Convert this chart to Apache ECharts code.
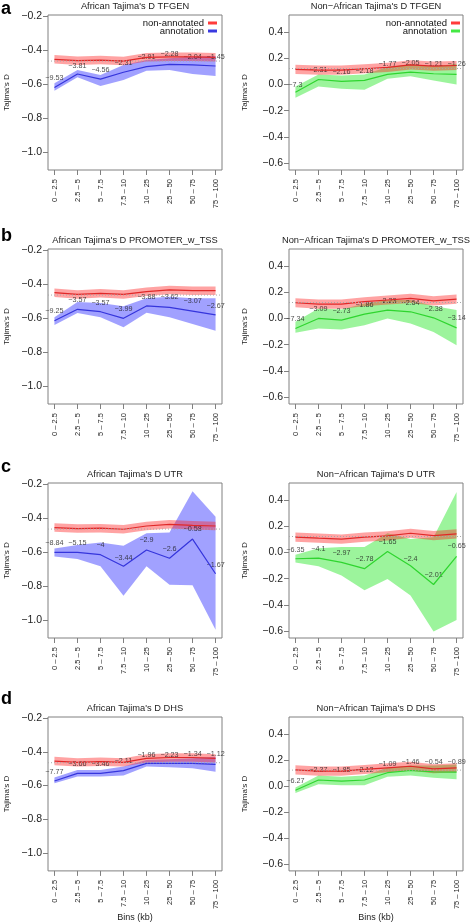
<!DOCTYPE html>
<html><head><meta charset="utf-8">
<script src="https://cdn.jsdelivr.net/npm/echarts@6/dist/echarts.min.js"></script>
<style>html,body{margin:0;padding:0;background:#fff}#c{width:472px;height:923px}</style>
</head><body><div id="c"></div><script>
const bins = ['0 – 2.5','2.5 – 5','5 – 7.5','7.5 – 10','10 – 25','25 – 50','50 – 75','75 – 100'];
const titles = ["African Tajima's D TFGEN","Non−African Tajima's D TFGEN","African Tajima's D PROMOTER_w_TSS","Non−African Tajima's D PROMOTER_w_TSS","African Tajima's D UTR","Non−African Tajima's D UTR","African Tajima's D DHS","Non−African Tajima's D DHS"];
const rowLetters = ['a','b','c','d'];
const yTicksAfr = [-1.0,-0.8,-0.6,-0.4,-0.2];
const yTicksNaf = [-0.6,-0.4,-0.2,0.0,0.2,0.4];
const refLevel = [-0.465, 0.122];

// TFGEN African
const tfAfrNon   = [-0.455,-0.463,-0.459,-0.465,-0.443,-0.440,-0.440,-0.443];
const tfAfrNonLo = [-0.480,-0.488,-0.484,-0.490,-0.468,-0.465,-0.465,-0.468];
const tfAfrNonHi = [-0.430,-0.438,-0.434,-0.440,-0.418,-0.415,-0.415,-0.418];
const tfAfrAnn   = [-0.620,-0.541,-0.571,-0.531,-0.498,-0.484,-0.488,-0.494];
const tfAfrAnnLo = [-0.640,-0.560,-0.612,-0.576,-0.522,-0.518,-0.541,-0.553];
const tfAfrAnnHi = [-0.596,-0.518,-0.547,-0.488,-0.459,-0.449,-0.440,-0.435];
const tfAfrLab   = ['−9.53','−3.81','−4.56','−2.31','−2.91','−2.28','−2.04','−1.45'];
const tfAfrLabY  = [-0.565,-0.494,-0.518,-0.476,-0.441,-0.424,-0.441,-0.441];
// TFGEN Non-African
const tfNafNon   = [0.115,0.110,0.110,0.120,0.130,0.150,0.140,0.145];
const tfNafNonLo = [0.080,0.075,0.075,0.085,0.095,0.115,0.105,0.110];
const tfNafNonHi = [0.150,0.145,0.145,0.155,0.165,0.185,0.175,0.180];
const tfNafAnn   = [-0.059,0.038,0.023,0.031,0.077,0.095,0.082,0.077];
const tfNafAnnLo = [-0.102,-0.015,-0.033,-0.041,0.044,0.062,0.031,0.000];
const tfNafAnnHi = [-0.015,0.077,0.069,0.077,0.133,0.154,0.138,0.159];
const tfNafLab   = ['−7.3','−2.31','−2.16','−2.18','−1.77','−2.05','−1.21','−1.26'];
const tfNafLabY  = [-0.008,0.108,0.095,0.102,0.159,0.167,0.159,0.154];
// PROMOTER African
const prAfrNon   = [-0.451,-0.461,-0.455,-0.461,-0.445,-0.435,-0.439,-0.439];
const prAfrNonLo = [-0.476,-0.486,-0.480,-0.486,-0.470,-0.460,-0.464,-0.464];
const prAfrNonHi = [-0.426,-0.436,-0.430,-0.436,-0.420,-0.410,-0.414,-0.414];
const prAfrAnn   = [-0.616,-0.549,-0.563,-0.602,-0.529,-0.537,-0.559,-0.582];
const prAfrAnnLo = [-0.641,-0.571,-0.596,-0.655,-0.569,-0.596,-0.635,-0.675];
const prAfrAnnHi = [-0.596,-0.506,-0.512,-0.531,-0.484,-0.475,-0.484,-0.484];
const prAfrLab   = ['−9.25','−3.57','−3.57','−3.99','−3.88','−3.62','−3.07','−2.67'];
const prAfrLabY  = [-0.559,-0.494,-0.510,-0.549,-0.475,-0.475,-0.500,-0.529];
// PROMOTER Non-African
const prNafNon   = [0.120,0.110,0.110,0.128,0.141,0.154,0.135,0.148];
const prNafNonLo = [0.085,0.075,0.075,0.093,0.106,0.119,0.100,0.113];
const prNafNonHi = [0.155,0.145,0.145,0.163,0.176,0.189,0.170,0.183];
const prNafAnn   = [-0.077,0.000,-0.013,0.033,0.064,0.051,0.005,-0.072];
const prNafAnnLo = [-0.110,-0.077,-0.085,-0.051,0.000,-0.038,-0.103,-0.205];
const prNafAnnHi = [-0.026,0.077,0.069,0.115,0.141,0.141,0.095,0.064];
const prNafLab   = ['−7.34','−3.09','−2.73','−1.86','−2.23','−2.64','−2.38','−3.14'];
const prNafLabY  = [-0.005,0.069,0.056,0.103,0.133,0.120,0.069,0.000];
// UTR African
const utAfrNon   = [-0.456,-0.462,-0.460,-0.466,-0.447,-0.437,-0.443,-0.447];
const utAfrNonLo = [-0.481,-0.487,-0.485,-0.491,-0.472,-0.462,-0.468,-0.472];
const utAfrNonHi = [-0.431,-0.437,-0.435,-0.441,-0.422,-0.412,-0.418,-0.422];
const utAfrAnn   = [-0.602,-0.602,-0.616,-0.684,-0.588,-0.637,-0.524,-0.728];
const utAfrAnnLo = [-0.627,-0.641,-0.684,-0.858,-0.684,-0.792,-0.796,-1.058];
const utAfrAnnHi = [-0.579,-0.559,-0.544,-0.563,-0.489,-0.485,-0.243,-0.392];
const utAfrLab   = ['−8.84','−5.15','−4','−3.44','−2.9','−2.6','−0.58','−1.67'];
const utAfrLabY  = [-0.550,-0.548,-0.557,-0.633,-0.528,-0.583,-0.466,-0.676];
// UTR Non-African
const utNafNon   = [0.117,0.109,0.102,0.117,0.127,0.147,0.129,0.142];
const utNafNonLo = [0.082,0.074,0.067,0.082,0.092,0.112,0.094,0.107];
const utNafNonHi = [0.152,0.144,0.137,0.152,0.162,0.182,0.164,0.177];
const utNafAnn   = [-0.048,-0.043,-0.076,-0.124,0.008,-0.101,-0.245,-0.030];
const utNafAnnLo = [-0.076,-0.106,-0.177,-0.289,-0.202,-0.329,-0.605,-0.516];
const utNafAnnHi = [-0.017,0.033,0.041,0.041,0.147,0.102,0.117,0.463];
const utNafLab   = ['−6.35','−4.1','−2.97','−2.78','−1.65','−2.4','−2.01','−0.65'];
const utNafLabY  = [0.020,0.028,-0.005,-0.050,0.079,-0.048,-0.175,0.046];
// DHS African
const dhAfrNon   = [-0.455,-0.463,-0.459,-0.463,-0.439,-0.434,-0.434,-0.439];
const dhAfrNonLo = [-0.480,-0.488,-0.484,-0.488,-0.464,-0.459,-0.459,-0.464];
const dhAfrNonHi = [-0.430,-0.438,-0.434,-0.438,-0.414,-0.409,-0.409,-0.414];
const dhAfrAnn   = [-0.573,-0.528,-0.528,-0.512,-0.469,-0.469,-0.469,-0.475];
const dhAfrAnnLo = [-0.586,-0.547,-0.547,-0.541,-0.488,-0.492,-0.498,-0.518];
const dhAfrAnnHi = [-0.553,-0.508,-0.508,-0.488,-0.449,-0.445,-0.439,-0.429];
const dhAfrLab   = ['−7.77','−3.66','−3.46','−2.11','−1.96','−2.23','−1.34','−1.12'];
const dhAfrLabY  = [-0.518,-0.471,-0.471,-0.455,-0.420,-0.420,-0.412,-0.416];
// DHS Non-African
const dhNafNon   = [0.124,0.114,0.114,0.127,0.140,0.152,0.132,0.140];
const dhNafNonLo = [0.089,0.079,0.079,0.092,0.105,0.117,0.097,0.105];
const dhNafNonHi = [0.159,0.149,0.149,0.162,0.175,0.187,0.167,0.175];
const dhNafAnn   = [-0.033,0.046,0.038,0.046,0.102,0.119,0.109,0.106];
const dhNafAnnLo = [-0.055,0.013,0.005,0.005,0.071,0.081,0.064,0.051];
const dhNafAnnHi = [-0.012,0.081,0.071,0.081,0.140,0.157,0.157,0.165];
const dhNafLab   = ['−6.27','−2.37','−1.85','−2.12','−1.09','−1.46','−0.54','−0.89'];
const dhNafLabY  = [0.038,0.119,0.119,0.119,0.172,0.182,0.182,0.182];

const panels = [
  [tfAfrNon,tfAfrNonLo,tfAfrNonHi,tfAfrAnn,tfAfrAnnLo,tfAfrAnnHi,tfAfrLab,tfAfrLabY],
  [tfNafNon,tfNafNonLo,tfNafNonHi,tfNafAnn,tfNafAnnLo,tfNafAnnHi,tfNafLab,tfNafLabY],
  [prAfrNon,prAfrNonLo,prAfrNonHi,prAfrAnn,prAfrAnnLo,prAfrAnnHi,prAfrLab,prAfrLabY],
  [prNafNon,prNafNonLo,prNafNonHi,prNafAnn,prNafAnnLo,prNafAnnHi,prNafLab,prNafLabY],
  [utAfrNon,utAfrNonLo,utAfrNonHi,utAfrAnn,utAfrAnnLo,utAfrAnnHi,utAfrLab,utAfrLabY],
  [utNafNon,utNafNonLo,utNafNonHi,utNafAnn,utNafAnnLo,utNafAnnHi,utNafLab,utNafLabY],
  [dhAfrNon,dhAfrNonLo,dhAfrNonHi,dhAfrAnn,dhAfrAnnLo,dhAfrAnnHi,dhAfrLab,dhAfrLabY],
  [dhNafNon,dhNafNonLo,dhNafNonHi,dhNafAnn,dhNafAnnLo,dhNafAnnHi,dhNafLab,dhNafLabY]
];

const FONT = 'Liberation Sans, Arial, Helvetica, sans-serif';
const colLeft = [48, 289];
const BOX_W = 174, BOX_H = 155, ROW_H = 234, TOP0 = 15;
const XMIN = -0.28, XMAX = 7.28;
const fmtY = v => (v < -1e-9 ? '−' : '') + Math.abs(v).toFixed(1);
const idx = bins.map((_, i) => i);

const grids = [], xAxes = [], yAxes = [], series = [], graphics = [];

function bandSeries(p, lo, hi, color) {
  return {
    type: 'custom', xAxisIndex: p, yAxisIndex: p, silent: true,
    data: idx.map(i => [i, lo[i], hi[i]]),
    encode: { x: 0, y: [1, 2] },
    renderItem: (params, api) => {
      if (params.dataIndex !== 0) return null;
      const pts = [];
      for (let i = 0; i < hi.length; i++) pts.push(api.coord([i, hi[i]]));
      for (let i = lo.length - 1; i >= 0; i--) pts.push(api.coord([i, lo[i]]));
      return { type: 'polygon', shape: { points: pts }, style: { fill: color, stroke: null } };
    }
  };
}

panels.forEach((d, p) => {
  const row = Math.floor(p / 2), col = p % 2;
  const top = TOP0 + ROW_H * row;
  const [non, nonLo, nonHi, ann, annLo, annHi, lab, labY] = d;
  const afr = col === 0;
  const annColor = afr ? '#3535dc' : '#2fd52f';
  const annFill = afr ? 'rgba(40,40,255,0.44)' : 'rgba(30,230,30,0.44)';
  grids.push({ left: colLeft[col], top: top, width: BOX_W, height: BOX_H, show: true,
    borderColor: '#808080', borderWidth: 1, backgroundColor: '#fff' });
  xAxes.push({ type: 'value', gridIndex: p, min: XMIN, max: XMAX,
    axisLine: { show: false, onZero: false }, splitLine: { show: false },
    axisTick: { show: true, customValues: idx, length: 5, lineStyle: { color: '#808080' } },
    axisLabel: { customValues: idx, rotate: 90, fontSize: 7.5, margin: 9, color: '#222',
      fontFamily: FONT, formatter: v => bins[Math.round(v)] },
    name: row === 3 ? 'Bins (kb)' : '', nameLocation: 'middle', nameGap: 42,
    nameTextStyle: { fontSize: 9, color: '#222', fontFamily: FONT } });
  const yt = afr ? yTicksAfr : yTicksNaf;
  yAxes.push({ type: 'value', gridIndex: p,
    min: afr ? -1.106 : -0.654, max: afr ? -0.194 : 0.531,
    axisLine: { show: false, onZero: false }, splitLine: { show: false },
    axisTick: { show: true, customValues: yt, length: 5, lineStyle: { color: '#808080' } },
    axisLabel: { customValues: yt, fontSize: 10.5, margin: 6, color: '#222', fontFamily: FONT, formatter: fmtY },
    name: "Tajima's D", nameLocation: 'middle', nameGap: afr ? 37 : 40,
    nameTextStyle: { fontSize: 8, color: '#222', fontFamily: FONT } });

  series.push(bandSeries(p, annLo, annHi, annFill));
  series.push(bandSeries(p, nonLo, nonHi, 'rgba(255,35,35,0.42)'));
  series.push({ type: 'line', xAxisIndex: p, yAxisIndex: p, data: idx.map(i => [i, ann[i]]),
    showSymbol: false, symbol: 'none', silent: true, lineStyle: { color: annColor, width: 1.2 } });
  series.push({ type: 'line', xAxisIndex: p, yAxisIndex: p, data: idx.map(i => [i, non[i]]),
    showSymbol: false, symbol: 'none', silent: true, lineStyle: { color: '#e02828', width: 1.2 } });
  const ref = refLevel[col];
  series.push({ type: 'line', xAxisIndex: p, yAxisIndex: p, data: [[XMIN, ref], [XMAX, ref]],
    showSymbol: false, symbol: 'none', silent: true, lineStyle: { color: '#a8a8a8', width: 1, type: [1, 2] } });
  series.push({ type: 'scatter', xAxisIndex: p, yAxisIndex: p, silent: true,
    data: idx.map(i => ({ value: [i, labY[i]], name: lab[i] })),
    symbolSize: 1, itemStyle: { color: 'rgba(0,0,0,0)' },
    label: { show: true, position: 'inside', formatter: pr => pr.name, fontSize: 7.2,
      color: '#1a1a1a', fontFamily: FONT } });

  graphics.push({ type: 'text', x: colLeft[col] + BOX_W / 2, y: top - 8.7,
    style: { text: titles[p], font: '9.3px ' + FONT, fill: '#222', textAlign: 'center', textVerticalAlign: 'middle' } });
});

const letterY = [9, 236, 467, 699];
rowLetters.forEach((t, r) => graphics.push({ type: 'text', x: 1, y: letterY[r],
  style: { text: t, font: 'bold 18px ' + FONT, fill: '#000', textAlign: 'left', textVerticalAlign: 'middle' } }));

// legends (row a)
[[204, 0], [447, 1]].forEach(([xr, col]) => {
  const annLeg = col === 0 ? '#3a3ae0' : '#44e844';
  [['non-annotated', '#ff3c3c', 23], ['annotation', annLeg, 31]].forEach(([t, c, y]) => {
    graphics.push({ type: 'text', x: xr, y: y, style: { text: t, font: '9.5px ' + FONT, fill: '#111', textAlign: 'right', textVerticalAlign: 'middle' } });
    graphics.push({ type: 'rect', shape: { x: xr + 4, y: y - 1.5, width: 9, height: 3 }, style: { fill: c } });
  });
});

const chart = echarts.init(document.getElementById('c'), null, { renderer: 'canvas' });
chart.setOption({ animation: false, backgroundColor: '#fff', grid: grids, xAxis: xAxes, yAxis: yAxes, series: series, graphic: graphics });
</script></body></html>
